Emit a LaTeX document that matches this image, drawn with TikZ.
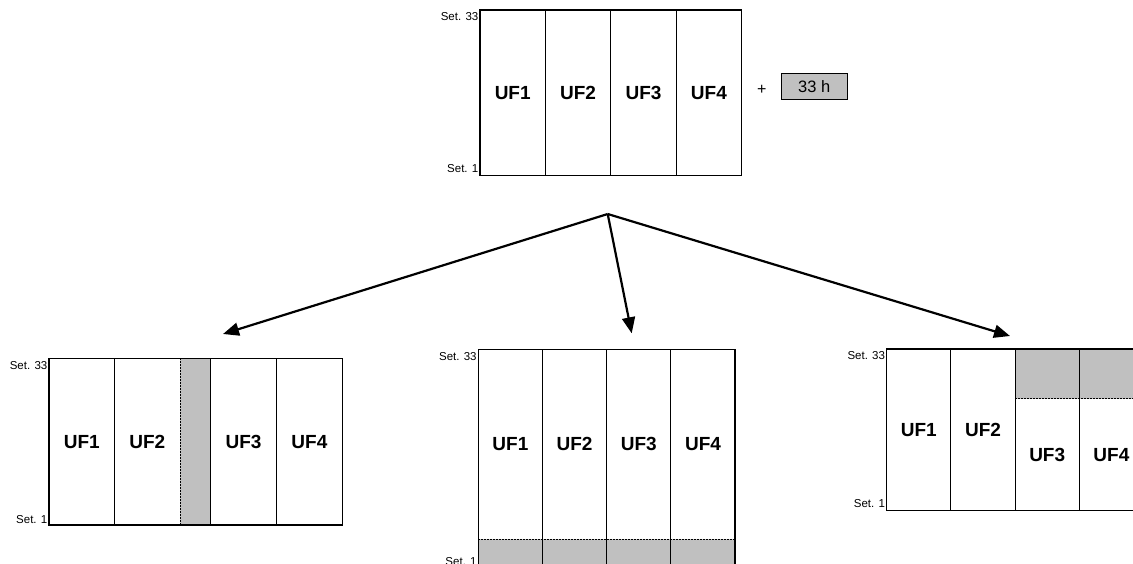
\documentclass[tikz,border=0pt]{standalone}
\usepackage{xcolor}
\usepackage{fontspec}
\setmainfont{Liberation Sans}
\usepackage{tikz}
\usetikzlibrary{positioning}
\usetikzlibrary{arrows.meta}

\definecolor{boxgrey}{HTML}{C0C0C0}
\newcommand{\uffont}{\fontsize{19}{19}\selectfont\bfseries}
\newcommand{\setlabfont}{\fontsize{11.5}{11.5}\selectfont}
\newcommand{\hoursfont}{\fontsize{16.5}{16.5}\selectfont}

\tikzset{
  cell/.style={minimum width=65.4pt, minimum height=165.7pt, inner sep=0pt, outer sep=0pt, font=\uffont},
  greycell/.style={cell, fill=boxgrey},
  sep/.style={line width=0.9pt},
  cut/.style={line width=0.9pt, dash pattern=on 2pt off 1pt},
  frame/.style={line width=1.4pt},
  setlab/.style={font=\setlabfont, inner sep=1.5pt, anchor=east},
  arr/.style={-{Triangle[length=16pt,width=13pt]}, line width=2.2pt},
}

\begin{document}
\begin{tikzpicture}[x=1pt,y=-1pt]
		\clip (0,0) rectangle (1133,564);
		
		% starting plan
		\node[cell, anchor=north west] (t1) at (480,10) {UF1};
		\node[cell] (t2) [right = 0pt of t1] {UF2};
		\node[cell] (t3) [right = 0pt of t2] {UF3};
		\node[cell] (t4) [right = 0pt of t3] {UF4};
		\draw[sep] (t1.north east) -- (t1.south east);
		\draw[sep] (t2.north east) -- (t2.south east);
		\draw[sep] (t3.north east) -- (t3.south east);
		\draw[frame] (t1.north west) rectangle (t4.south east);
		\node[setlab] (ttop) at ([yshift=-7pt]t1.north west) {Set. 33};
		\node[setlab] (tbot) at ([yshift=6.7pt]t1.south west) {Set. 1};
		\node[font=\fontsize{16}{16}\selectfont] (plus) at (761.7,90) {+};
		\node[draw, line width=1pt, fill=boxgrey, minimum width=66.3pt, minimum height=26pt, inner sep=0pt, font=\hoursfont] (hours) at (814.2,87) {33 h};
		
		% split
		\coordinate (split) at (607.7,214);
		\coordinate (toleft) at (223,334);
		\coordinate (tomid) at (631.7,333.3);
		\coordinate (toright) at (1010,336);
		\draw[arr] (split) -- (toleft);
		\draw[arr] (split) -- (tomid);
		\draw[arr] (split) -- (toright);
		
		% left plan
		\node[cell, minimum width=65.5pt, minimum height=166.7pt, anchor=north west] (l1) at (49,358.3) {UF1};
		\node[cell, minimum width=65.5pt, minimum height=166.7pt] (l2) [right = 0pt of l1] {UF2};
		\node[greycell, minimum width=30.7pt, minimum height=166.7pt] (lg) [right = 0pt of l2] {};
		\node[cell, minimum width=65.8pt, minimum height=166.7pt] (l3) [right = 0pt of lg] {UF3};
		\node[cell, minimum width=65.8pt, minimum height=166.7pt] (l4) [right = 0pt of l3] {UF4};
		\draw[sep] (l1.north east) -- (l1.south east);
		\draw[cut] (lg.north west) -- (lg.south west);
		\draw[sep] (lg.north east) -- (lg.south east);
		\draw[sep] (l3.north east) -- (l3.south east);
		\draw[frame] (l1.north west) rectangle (l4.south east);
		\node[setlab] (ltop) at ([yshift=-7pt]l1.north west) {Set. 33};
		\node[setlab] (lbot) at ([yshift=5.5pt]l1.south west) {Set. 1};
		
		% middle plan
		\node[cell, minimum width=64.2pt, minimum height=189.7pt, anchor=north west] (m1) at (478.3,349.3) {UF1};
		\node[cell, minimum width=64.2pt, minimum height=189.7pt] (m2) [right = 0pt of m1] {UF2};
		\node[cell, minimum width=64.2pt, minimum height=189.7pt] (m3) [right = 0pt of m2] {UF3};
		\node[cell, minimum width=64.2pt, minimum height=189.7pt] (m4) [right = 0pt of m3] {UF4};
		\node[greycell, minimum width=64.2pt, minimum height=29.4pt] (mg1) [below = 0pt of m1] {};
		\node[greycell, minimum width=64.2pt, minimum height=29.4pt] (mg2) [below = 0pt of m2] {};
		\node[greycell, minimum width=64.2pt, minimum height=29.4pt] (mg3) [below = 0pt of m3] {};
		\node[greycell, minimum width=64.2pt, minimum height=29.4pt] (mg4) [below = 0pt of m4] {};
		\draw[sep] (m1.north east) -- (mg1.south east);
		\draw[sep] (m2.north east) -- (mg2.south east);
		\draw[sep] (m3.north east) -- (mg3.south east);
		\draw[cut] (m1.south west) -- (m4.south east);
		\draw[frame] (m1.north west) rectangle (mg4.south east);
		\node[setlab] (mtop) at ([yshift=-7.7pt]m1.north west) {Set. 33};
		\node[setlab] (mbot) at ([yshift=6.7pt]mg1.south west) {Set. 1};
		
		% right plan
		\node[cell, minimum width=64.2pt, minimum height=161.7pt, anchor=north west] (r1) at (886.7,349) {UF1};
		\node[cell, minimum width=64.2pt, minimum height=161.7pt] (r2) [right = 0pt of r1] {UF2};
		\node[greycell, minimum width=64.2pt, minimum height=49.7pt] (rg3) [below right = 0pt of r2.north east] {};
		\node[greycell, minimum width=64.2pt, minimum height=49.7pt] (rg4) [right = 0pt of rg3] {};
		\node[cell, minimum width=64.2pt, minimum height=112pt] (r3) [below = 0pt of rg3] {UF3};
		\node[cell, minimum width=64.2pt, minimum height=112pt] (r4) [below = 0pt of rg4] {UF4};
		\draw[sep] (r1.north east) -- (r1.south east);
		\draw[sep] (r2.north east) -- (r2.south east);
		\draw[sep] (rg3.north east) -- (r3.south east);
		\draw[cut] (rg3.south west) -- (rg4.south east);
		\draw[frame] (r1.north west) rectangle (r4.south east);
		\node[setlab] (rtop) at ([yshift=-7pt]r1.north west) {Set. 33};
		\node[setlab] (rbot) at ([yshift=6.7pt]r1.south west) {Set. 1};
\end{tikzpicture}
\end{document}
